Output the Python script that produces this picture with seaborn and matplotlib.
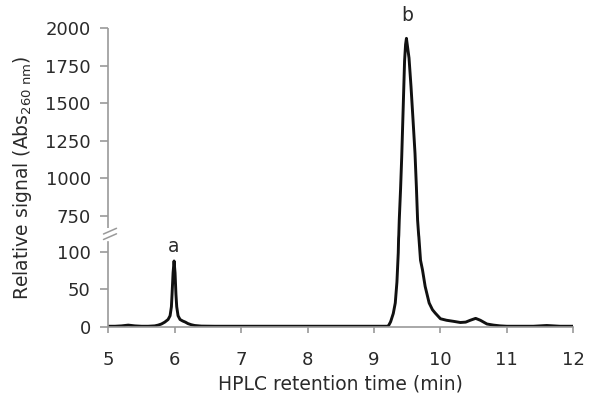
import numpy as np
import matplotlib
matplotlib.use("Agg")
import matplotlib.pyplot as plt
import seaborn as sns

# ---- data ----
time_min = [5.0, 5.1, 5.2, 5.3, 5.4, 5.5, 5.6, 5.7, 5.75, 5.8, 5.85, 5.9, 5.93, 5.95,
            5.96, 5.975, 5.99, 6.005, 6.018, 6.03, 6.05, 6.08, 6.12, 6.16, 6.2, 6.25,
            6.3, 6.4, 6.6, 7.0, 7.5, 8.0, 8.5, 9.0, 9.2,
            9.22, 9.25, 9.29, 9.32, 9.345, 9.365, 9.37, 9.373, 9.38, 9.40, 9.417,
            9.44, 9.46, 9.475, 9.488, 9.50, 9.527, 9.557, 9.587, 9.617, 9.638, 9.656,
            9.672, 9.675, 9.70, 9.73, 9.77, 9.83, 9.88, 9.92, 10.0, 10.09, 10.2, 10.3,
            10.38, 10.45, 10.53, 10.6, 10.7, 10.8, 10.9, 11.0, 11.4, 11.5, 11.6, 11.7,
            11.8, 12.0]
signal = [1, 1, 1.5, 2.5, 1.5, 1, 1, 1.5, 2.5, 4, 6.5, 10, 15, 27,
          44, 72, 88, 72, 44, 27, 15, 10, 8, 6.5, 4.5, 3,
          2, 1.2, 1, 1, 1, 1, 1, 1, 1,
          2, 7, 18, 32, 60, 99, 118, 620, 720, 930, 1140,
          1480, 1780, 1890, 1931, 1890, 1800, 1609, 1390, 1165, 940, 720,
          600, 120, 89, 76, 54, 32, 23, 18.7, 11, 9, 7.5, 6,
          6.5, 9, 11.5, 9, 4, 2.5, 1.5, 1, 1, 1.5, 2, 1.5,
          1, 1]

x_ticks = [5, 6, 7, 8, 9, 10, 11, 12]
y_ticks = [0, 50, 100, 750, 1000, 1250, 1500, 1750, 2000]
y_tick_labels = ["0", "50", "100", "750", "1000", "1250", "1500", "1750", "2000"]
peak_labels = ["a", "b"]
peak_pos = [(5.99, 100), (9.50, 2045)]

# ---- broken-axis scale ----
L, U, G, S = 122.0, 620.0, 0.5, 0.2


def fwd(y):
    y = np.asarray(y, dtype=float)
    return np.where(y <= L, y,
                    np.where(y <= U, L + (y - L) * G / (U - L), L + G + (y - U) * S))


def inv(v):
    v = np.asarray(v, dtype=float)
    return np.where(v <= L, v,
                    np.where(v <= L + G, L + (v - L) * (U - L) / G, U + (v - L - G) / S))


sns.set_style("ticks")
plt.rcParams["font.family"] = ["DejaVu Sans"]
plt.rcParams["mathtext.default"] = "regular"

text_c = "#2a2a2a"
spine_c = "#9a9a9a"

fig = plt.figure(figsize=(5.9, 4.01), dpi=100)
ax = fig.add_axes([108.3 / 590, 74 / 401, 465 / 590, 299 / 401])
ax.set_yscale("function", functions=(fwd, inv))

sns.lineplot(x=time_min, y=signal, ax=ax, color="#111111", lw=2.1, sort=False)

ax.set_xlim(5, 12)
ax.set_ylim(0, 2000)
ax.set_xticks(x_ticks)
ax.set_xticklabels([str(t) for t in x_ticks])
ax.set_yticks(y_ticks)
ax.set_yticklabels(y_tick_labels)
ax.minorticks_off()

for s in ["top", "right"]:
    ax.spines[s].set_visible(False)
for s in ["left", "bottom"]:
    ax.spines[s].set_color(spine_c)
    ax.spines[s].set_linewidth(1.2)

# lower part of y spine, upper part drawn separately (axis break)
ax.spines["left"].set_bounds(0, 113)
ax.plot([0, 0], [667, 2000], transform=ax.get_yaxis_transform(), color=spine_c,
        lw=1.2, clip_on=False, solid_capstyle="butt")

# break marks "//"
for dy in [0, 5.5]:
    x0, x1 = 103.5, 116.5
    y0, y1 = 234 + dy, 228.3 + dy
    fig.add_artist(plt.Line2D([x0 / 590, x1 / 590], [(401 - y0) / 401, (401 - y1) / 401],
                              transform=fig.transFigure, color=spine_c, lw=1.1))

ax.tick_params(axis="y", direction="out", length=5.5, width=1.2, color=spine_c,
               pad=7.2, labelsize=13, labelcolor=text_c)
ax.tick_params(axis="x", direction="out", length=4.3, width=1.2, color=spine_c,
               pad=12.7, labelsize=13, labelcolor=text_c)

ax.set_xlabel("HPLC retention time (min)", fontsize=13.5, color=text_c, labelpad=4)
ax.set_ylabel(r"Relative signal (Abs$_{260\ nm}$)", fontsize=13.5, color=text_c, labelpad=8)

for lab, (px, py) in zip(peak_labels, peak_pos):
    ax.text(px, py, lab, ha="center", va="baseline", fontsize=13.5, color=text_c,
            clip_on=False)

fig.savefig("out.png", dpi=100)
